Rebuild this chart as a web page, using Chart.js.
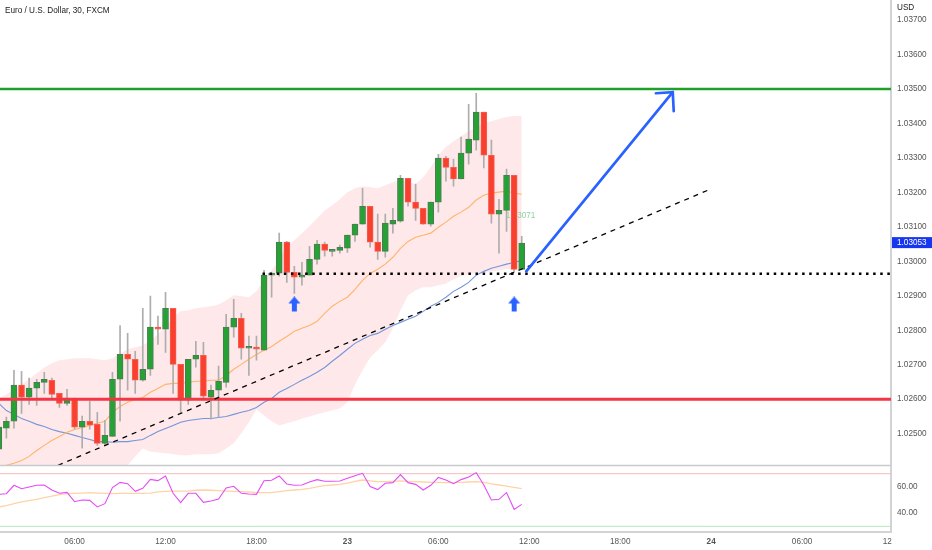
<!DOCTYPE html>
<html>
<head>
<meta charset="utf-8">
<title>Euro / U.S. Dollar, 30, FXCM</title>
<script src="https://cdn.jsdelivr.net/npm/chart.js@4"></script>
<style>
  html, body { margin: 0; padding: 0; background: #fff; }
  canvas { display: block; }
</style>
</head>
<body>
<canvas id="chart" width="932" height="550"></canvas>
<script>
// candles, one per 30 minutes
const opens = [1.02455,1.02516,1.02536,1.02641,1.02606,1.02632,1.02649,1.02655,1.02617,1.02588,1.02600,1.02519,1.02536,1.02527,1.02472,1.02492,1.02658,1.02730,1.02716,1.02655,1.02687,1.02809,1.02803,1.02864,1.02701,1.02597,1.02716,1.02727,1.02606,1.02626,1.02649,1.02809,1.02835,1.02748,1.02751,1.02742,1.02960,1.02966,1.03056,1.02968,1.02954,1.02960,1.03006,1.03050,1.03029,1.03032,1.03038,1.03076,1.03108,1.03160,1.03056,1.03029,1.03108,1.03117,1.03241,1.03172,1.03154,1.03108,1.03172,1.03300,1.03273,1.03239,1.03314,1.03352,1.03433,1.03308,1.03137,1.03148,1.03250,1.02977];
const highs = [1.02539,1.02548,1.02684,1.02681,1.02661,1.02658,1.02678,1.02661,1.02617,1.02629,1.02603,1.02551,1.02594,1.02562,1.02539,1.02678,1.02814,1.02791,1.02739,1.02864,1.02899,1.02841,1.02910,1.02864,1.02701,1.02716,1.02768,1.02765,1.02641,1.02696,1.02846,1.02890,1.02849,1.02783,1.02783,1.02974,1.02966,1.03082,1.03058,1.02986,1.02997,1.03044,1.03061,1.03056,1.03035,1.03047,1.03076,1.03108,1.03212,1.03160,1.03137,1.03137,1.03154,1.03250,1.03241,1.03224,1.03154,1.03172,1.03311,1.03305,1.03297,1.03361,1.03456,1.03488,1.03433,1.03352,1.03180,1.03268,1.03250,1.03073];
const lows = [1.02445,1.02487,1.02516,1.02559,1.02585,1.02582,1.02617,1.02603,1.02576,1.02582,1.02513,1.02458,1.02513,1.02466,1.02466,1.02492,1.02536,1.02626,1.02617,1.02652,1.02669,1.02759,1.02736,1.02617,1.02559,1.02585,1.02693,1.02597,1.02542,1.02548,1.02635,1.02780,1.02716,1.02669,1.02713,1.02742,1.02896,1.02957,1.02939,1.02907,1.02931,1.02960,1.02992,1.03015,1.03015,1.03024,1.03026,1.03058,1.03108,1.03041,1.03006,1.03012,1.03082,1.03114,1.03160,1.03119,1.03108,1.03102,1.03143,1.03233,1.03218,1.03239,1.03282,1.03323,1.03271,1.03111,1.03024,1.03087,1.02968,1.02977];
const closes = [1.02519,1.02536,1.02641,1.02606,1.02632,1.02649,1.02658,1.02614,1.02588,1.02603,1.02519,1.02536,1.02525,1.02472,1.02495,1.02658,1.02730,1.02716,1.02655,1.02687,1.02809,1.02803,1.02864,1.02701,1.02597,1.02716,1.02727,1.02609,1.02626,1.02652,1.02809,1.02835,1.02748,1.02751,1.02745,1.02960,1.02966,1.03056,1.02968,1.02954,1.02960,1.03006,1.03050,1.03032,1.03032,1.03041,1.03076,1.03108,1.03160,1.03056,1.03029,1.03111,1.03119,1.03241,1.03172,1.03154,1.03108,1.03172,1.03300,1.03273,1.03239,1.03314,1.03355,1.03433,1.03308,1.03137,1.03148,1.03250,1.02977,1.03053];

// indicator on the price pane
const bandUpper = [1.02602,1.02614,1.02629,1.02643,1.02658,1.02675,1.02692,1.02704,1.02713,1.02716,1.02719,1.02719,1.02719,1.02716,1.02713,1.02719,1.02733,1.02745,1.02751,1.02756,1.02771,1.02788,1.02812,1.02838,1.02855,1.02858,1.02864,1.02867,1.02870,1.02875,1.02887,1.02902,1.02899,1.02896,1.02913,1.02945,1.02974,1.03003,1.03047,1.03061,1.03082,1.03102,1.03125,1.03148,1.03163,1.03180,1.03201,1.03212,1.03218,1.03215,1.03212,1.03221,1.03230,1.03236,1.03230,1.03224,1.03244,1.03273,1.03308,1.03332,1.03349,1.03363,1.03378,1.03390,1.03401,1.03407,1.03413,1.03419,1.03422,1.03422];
const bandLower = [1.02408,1.02408,1.02408,1.02408,1.02408,1.02408,1.02408,1.02408,1.02408,1.02408,1.02408,1.02408,1.02408,1.02408,1.02408,1.02408,1.02408,1.02408,1.02434,1.02457,1.02448,1.02445,1.02443,1.02440,1.02437,1.02437,1.02440,1.02440,1.02440,1.02443,1.02457,1.02472,1.02501,1.02533,1.02570,1.02553,1.02536,1.02524,1.02530,1.02536,1.02544,1.02550,1.02556,1.02562,1.02568,1.02573,1.02591,1.02643,1.02684,1.02721,1.02742,1.02765,1.02806,1.02858,1.02902,1.02916,1.02925,1.02925,1.02931,1.02936,1.02948,1.02957,1.02963,1.02966,1.02966,1.02971,1.02974,1.02977,1.02980,1.02980];
const fastAverage = [null,1.02408,1.02414,1.02422,1.02434,1.02451,1.02466,1.02480,1.02492,1.02504,1.02512,1.02518,1.02524,1.02530,1.02536,1.02562,1.02579,1.02591,1.02600,1.02605,1.02620,1.02631,1.02643,1.02646,1.02646,1.02649,1.02652,1.02652,1.02655,1.02655,1.02669,1.02687,1.02701,1.02716,1.02730,1.02742,1.02753,1.02768,1.02782,1.02797,1.02806,1.02814,1.02826,1.02849,1.02870,1.02884,1.02896,1.02919,1.02945,1.02965,1.02977,1.02992,1.03012,1.03038,1.03058,1.03070,1.03076,1.03082,1.03099,1.03114,1.03131,1.03143,1.03157,1.03178,1.03192,1.03198,1.03201,1.03204,1.03198,1.03195];
const slowAverage = [1.02588,1.02567,1.02556,1.02544,1.02536,1.02527,1.02521,1.02512,1.02506,1.02501,1.02495,1.02489,1.02483,1.02477,1.02477,1.02475,1.02477,1.02477,1.02480,1.02483,1.02495,1.02506,1.02515,1.02524,1.02533,1.02538,1.02541,1.02544,1.02544,1.02547,1.02550,1.02556,1.02562,1.02567,1.02576,1.02591,1.02602,1.02620,1.02631,1.02643,1.02655,1.02666,1.02678,1.02692,1.02710,1.02727,1.02745,1.02762,1.02774,1.02785,1.02791,1.02803,1.02814,1.02823,1.02832,1.02841,1.02855,1.02870,1.02881,1.02896,1.02913,1.02925,1.02939,1.02960,1.02971,1.02980,1.02986,1.02992,1.02997,1.03003];

// RSI pane
const rsiValues = [54.3,54.8,61.2,58.6,59.9,61.2,61.4,57.6,55.1,55.8,48.7,50.0,49.7,44.7,47.2,59.4,63.4,62.4,56.6,58.9,65.7,64.7,68.3,55.1,48.0,55.1,55.1,48.2,49.2,50.8,59.1,60.4,55.1,54.6,54.3,64.7,65.0,68.3,62.2,61.2,61.4,63.7,65.5,64.2,64.2,64.5,66.5,68.5,70.3,60.2,57.9,62.7,63.2,69.3,63.2,61.9,57.6,61.2,67.2,65.2,62.4,65.5,67.5,70.8,61.4,50.0,50.5,55.6,42.9,46.7];
const rsiAverage = [44.7,45.7,47.2,48.5,49.5,50.5,51.8,53.0,54.1,54.8,55.1,55.3,55.6,55.3,55.1,54.8,55.1,55.1,55.1,55.1,55.3,56.1,56.6,56.8,56.8,56.8,57.4,57.6,57.4,57.1,56.8,56.6,56.3,56.1,55.6,55.6,55.6,56.3,57.1,57.6,58.1,58.9,59.9,60.9,61.4,61.9,62.9,64.2,65.2,64.5,63.9,63.9,64.2,64.5,64.2,63.9,63.7,63.4,63.4,63.2,63.2,63.4,63.7,63.9,63.4,62.2,61.4,60.6,59.6,58.6];
const rsiBandTop = 70;
const rsiBandBottom = 30;

// drawings
const resistance = 1.035;
const support = 1.026;
const neckline = 1.02964;
const necklineStart = 34.8;
const trendX = [7.82, 93.95];
const trendY = [1.02408, 1.03210];
const arrowX = [69.6, 88.93];
const arrowY = [1.02971, 1.03491];
const arrowHeadX = [86.7, 88.93, 89.06];
const arrowHeadY = [1.03488, 1.03491, 1.03436];
const markerX = [39, 68];
const markerY = [1.02875, 1.02875];

// axes
const xMin = 0.1585;
const xMax = 117.73;
const timeTicks = [10, 22, 34, 46, 58, 70, 82, 94, 106, 118];
const timeLabels = ['06:00', '12:00', '18:00', '23', '06:00', '12:00', '18:00', '24', '06:00', '12:00'];
const dayTicks = [46, 94];
const priceTicks = [1.025, 1.026, 1.027, 1.028, 1.029, 1.03, 1.031, 1.032, 1.033, 1.034, 1.035, 1.036, 1.037];
const rsiTicks = [40, 60];

const lastPrice = 1.03053;
const otherPrice = '1.03071';
const otherPriceX = 66.9;
const otherPriceY = 1.03132;

const axisFont = { family: '"Liberation Sans", Arial, sans-serif', size: 8.2 };
const axisColor = '#d2d3d6';
const wickDataset = 4;

const points = (xs, ys) => ys.map((y, i) => ({ x: xs ? xs[i] : i, y: y })).filter(p => p.y !== null);
const flat = (y) => [{ x: xMin, y: y }, { x: xMax, y: y }];
const upIdx = closes.map((c, i) => i).filter(i => closes[i] >= opens[i]);
const downIdx = closes.map((c, i) => i).filter(i => closes[i] < opens[i]);
const bodies = (idx) => idx.map(i => ({ x: i, y: [Math.min(opens[i], closes[i]), Math.max(opens[i], closes[i])] }));

function line(data, color, width, order, extra) {
  return Object.assign({
    type: 'line', data: data, borderColor: color, borderWidth: width, order: order,
    pointRadius: 0, tension: 0, fill: false
  }, extra || {});
}

// no room around the chart area for half labels
function noPadding(scale) {
  scale.paddingTop = 0;
  scale.paddingBottom = 0;
  scale.paddingLeft = 0;
  scale.paddingRight = 0;
}

// small up arrow used as point image
function arrowImage() {
  const c = document.createElement('canvas');
  c.width = 13; c.height = 16;
  const g = c.getContext('2d');
  g.fillStyle = '#2962ff';
  g.beginPath();
  g.moveTo(6.5, 0); g.lineTo(12.5, 7); g.lineTo(9, 7); g.lineTo(9, 15);
  g.lineTo(4, 15); g.lineTo(4, 7); g.lineTo(0.5, 7);
  g.closePath();
  g.fill();
  return c;
}

// pane separator and the texts that sit on the chart
const overlay = {
  id: 'overlay',
  afterDatasetDraw(chart, args) {
    // this label lies above the band but the candle bodies hide part of it
    if (args.index !== wickDataset) return;
    const { ctx, scales } = chart;
    ctx.save();
    ctx.font = '8.2px "Liberation Sans", Arial, sans-serif';
    ctx.textBaseline = 'middle';
    ctx.fillStyle = '#8fd09d';
    ctx.fillText(otherPrice, scales.x.getPixelForValue(otherPriceX), scales.y.getPixelForValue(otherPriceY));
    ctx.restore();
  },
  afterDraw(chart) {
    const { ctx, scales, chartArea } = chart;
    ctx.save();
    ctx.strokeStyle = '#c9cacd';
    ctx.lineWidth = 1.5;
    ctx.beginPath();
    ctx.moveTo(0, scales.rsi.top);
    ctx.lineTo(chartArea.right, scales.rsi.top);
    ctx.stroke();

    // the last time label runs into the price axis and is cut there
    ctx.fillStyle = '#fff';
    ctx.fillRect(chartArea.right + 1, chartArea.bottom + 1, 60, 20);

    ctx.textBaseline = 'middle';
    ctx.font = '8.2px "Liberation Sans", Arial, sans-serif';
    ctx.fillStyle = '#222';
    ctx.fillText('Euro / U.S. Dollar, 30, FXCM', 5, 10.5);
    ctx.fillText('USD', chartArea.right + 6, 8);

    const y = scales.y.getPixelForValue(lastPrice);
    ctx.fillStyle = '#1736f0';
    ctx.fillRect(chartArea.right + 1, y - 6, 40, 11);
    ctx.fillStyle = '#fff';
    ctx.fillText(lastPrice.toFixed(5), chartArea.right + 6, y);
    ctx.restore();
  }
};

new Chart(document.getElementById('chart'), {
  type: 'bar',
  data: {
    datasets: [
      line(points(null, bandUpper), 'rgba(0,0,0,0)', 0, 10, { fill: '+1', backgroundColor: '#fee8ea' }),
      line(points(null, bandLower), 'rgba(0,0,0,0)', 0, 10),
      line(points(null, fastAverage), '#ffb469', 1.1, 8),
      line(points(null, slowAverage), '#7496da', 1.1, 8),
      { data: opens.map((o, i) => ({ x: i, y: [lows[i], highs[i]] })), backgroundColor: '#adadad', barThickness: 1, grouped: false, order: 6 },
      { data: bodies(upIdx), backgroundColor: '#26a235', borderColor: '#4c7a55', borderWidth: 1, borderSkipped: false, barThickness: 6, minBarLength: 2, grouped: false, order: 5 },
      { data: bodies(downIdx), backgroundColor: '#f8402f', borderColor: '#fb5a4c', borderWidth: 1, borderSkipped: false, barThickness: 6, minBarLength: 2, grouped: false, order: 5 },
      line(flat(support), '#f23645', 3, 3),
      line(flat(resistance), '#1f9e2a', 2.5, 3),
      line([{ x: necklineStart, y: neckline }, { x: xMax, y: neckline }], '#000', 2.5, 2, { borderDash: [2.5, 4.6] }),
      line(points(trendX, trendY), '#000', 1.3, 2, { borderDash: [5, 5] }),
      line(points(arrowX, arrowY), '#2962ff', 2.7, 1, { borderCapStyle: 'round' }),
      line(points(arrowHeadX, arrowHeadY), '#2962ff', 2.7, 1, { borderCapStyle: 'round', borderJoinStyle: 'miter' }),
      { type: 'scatter', data: points(markerX, markerY), pointStyle: arrowImage(), pointRadius: 7, order: 1 },
      line(flat(rsiBandTop), '#f6b9be', 1, 4, { yAxisID: 'rsi' }),
      line(flat(rsiBandBottom), '#b8e5ba', 1, 4, { yAxisID: 'rsi' }),
      line(points(null, rsiAverage), '#ffd3a6', 1.3, 3, { yAxisID: 'rsi' }),
      line(points(null, rsiValues), '#e44cf5', 1.1, 2, { yAxisID: 'rsi' })
    ]
  },
  options: {
    responsive: false,
    animation: false,
    events: [],
    layout: { padding: 0, autoPadding: false },
    plugins: { legend: { display: false }, tooltip: { enabled: false }, title: { display: false } },
    scales: {
      x: {
        type: 'linear',
        position: 'bottom',
        offset: false,
        min: xMin,
        max: xMax,
        grid: { display: false, drawTicks: false },
        border: { color: axisColor, width: 2 },
        afterBuildTicks(scale) { scale.ticks = timeTicks.map(v => ({ value: v })); },
        afterFit(scale) { scale.height = 18; noPadding(scale); },
        ticks: {
          autoSkip: false,
          maxRotation: 0,
          padding: 5,
          color: '#555',
          callback(value) { return timeLabels[timeTicks.indexOf(value)]; },
          font(ctx) {
            const bold = ctx.tick && dayTicks.includes(ctx.tick.value);
            return Object.assign({}, axisFont, { weight: bold ? 'bold' : 'normal' });
          }
        }
      },
      y: {
        position: 'right',
        stack: 'panes',
        stackWeight: 465.5,
        min: 1.024076,
        max: 1.037586,
        grid: { display: false, drawTicks: false },
        border: { color: axisColor, width: 2 },
        afterBuildTicks(scale) { scale.ticks = priceTicks.map(v => ({ value: v })); },
        afterFit(scale) { scale.width = 41; noPadding(scale); },
        ticks: {
          autoSkip: false,
          padding: 6,
          color: '#555',
          font: axisFont,
          callback(value) { return value.toFixed(5); }
        }
      },
      rsi: {
        position: 'right',
        stack: 'panes',
        stackWeight: 66.5,
        min: 25.67,
        max: 76.23,
        grid: { display: false, drawTicks: false },
        border: { color: axisColor, width: 2 },
        afterBuildTicks(scale) { scale.ticks = rsiTicks.map(v => ({ value: v })); },
        afterFit(scale) { scale.width = 41; noPadding(scale); },
        ticks: {
          autoSkip: false,
          padding: 6,
          color: '#555',
          font: axisFont,
          callback(value) { return value.toFixed(2); }
        }
      }
    }
  },
  plugins: [overlay]
});
</script>
</body>
</html>
